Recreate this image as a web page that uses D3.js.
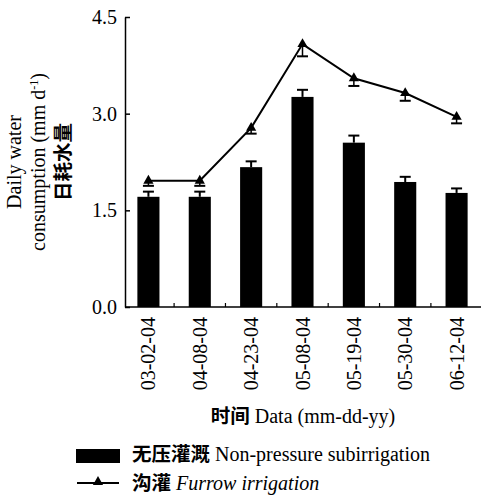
<!DOCTYPE html>
<html><head><meta charset="utf-8">
<script src="https://cdn.jsdelivr.net/npm/d3@7"></script>
<style>
body{margin:0;background:#fff;}
text{font-family:"Liberation Serif","Times New Roman",serif;fill:#000;}
.cjk{font-family:"Noto Sans CJK SC",sans-serif;font-weight:bold;}
</style></head>
<body>
<svg id="c" width="481" height="496"></svg>
<script>
const categories = ["03-02-04","04-08-04","04-23-04","05-08-04","05-19-04","05-30-04","06-12-04"];
const barValues = [1.71,1.71,2.17,3.26,2.55,1.94,1.77];
const barErrors = [0.08,0.08,0.09,0.11,0.11,0.08,0.07];
const lineValues = [1.96,1.96,2.78,4.08,3.55,3.32,2.95];
const lineErrors = [0.08,0.08,0.09,0.19,0.12,0.12,0.10];
const yTicks = [0.0,1.5,3.0,4.5];

const svg = d3.select("#c");
const x = d3.scaleBand().domain(categories).range([123,482]).paddingInner(0.57).paddingOuter(0.28);
const y = d3.scaleLinear().domain([0,4.5]).range([307,17]);
const x0 = 125;
const FS = "20px", CFS = "19.5px";

// bars
svg.selectAll("rect.bar").data(categories).enter().append("rect")
  .attr("x",d=>x(d)).attr("width",x.bandwidth())
  .attr("y",(d,i)=>y(barValues[i])).attr("height",(d,i)=>y(0)-y(barValues[i]))
  .attr("fill","#000");
// bar error bars (upward)
const cw = 11;
categories.forEach((d,i)=>{
  const cx = x(d)+x.bandwidth()/2;
  svg.append("line").attr("x1",cx).attr("x2",cx).attr("y1",y(barValues[i])).attr("y2",y(barValues[i]+barErrors[i])).attr("stroke","#000").attr("stroke-width",2);
  svg.append("line").attr("x1",cx-cw/2).attr("x2",cx+cw/2).attr("y1",y(barValues[i]+barErrors[i])).attr("y2",y(barValues[i]+barErrors[i])).attr("stroke","#000").attr("stroke-width",2);
});

// line
const line = d3.line().x((d,i)=>x(categories[i])+x.bandwidth()/2).y(d=>y(d));
svg.append("path").datum(lineValues).attr("d",line).attr("fill","none").attr("stroke","#000").attr("stroke-width",2);
categories.forEach((d,i)=>{
  const cx = x(d)+x.bandwidth()/2;
  svg.append("line").attr("x1",cx).attr("x2",cx).attr("y1",y(lineValues[i])).attr("y2",y(lineValues[i]-lineErrors[i])).attr("stroke","#000").attr("stroke-width",1.5);
  svg.append("line").attr("x1",cx-cw/2).attr("x2",cx+cw/2).attr("y1",y(lineValues[i]-lineErrors[i])).attr("y2",y(lineValues[i]-lineErrors[i])).attr("stroke","#000").attr("stroke-width",2);
});
const tri = d3.symbol().type(d3.symbolTriangle).size(45);
svg.selectAll("path.mk").data(lineValues).enter().append("path")
  .attr("d",tri).attr("transform",(d,i)=>`translate(${x(categories[i])+x.bandwidth()/2},${y(d)})`).attr("fill","#000");

// y axis
const ya = svg.append("g").attr("transform",`translate(${x0},0)`)
  .call(d3.axisLeft(y).tickValues(yTicks).tickFormat(d3.format(".1f")).tickSizeInner(-5).tickSizeOuter(0).tickPadding(8));
ya.attr("font-family",null);
ya.select(".domain").attr("stroke-width",1.5);
ya.selectAll(".tick line").attr("stroke-width",1.5);
ya.selectAll(".tick text").style("font-size",FS);

// x axis
svg.append("line").attr("x1",x0).attr("x2",482).attr("y1",y(0)).attr("y2",y(0)).attr("stroke","#000").attr("stroke-width",1.5);
const step = x.step();
categories.slice(1).forEach((d,i)=>{
  const bx = x(d) - (step - x.bandwidth())/2;
  svg.append("line").attr("x1",bx).attr("x2",bx).attr("y1",y(0)).attr("y2",y(0)-4).attr("stroke","#000").attr("stroke-width",1.2);
});
svg.selectAll("text.xl").data(categories).enter().append("text")
  .attr("transform",d=>`translate(${x(d)+x.bandwidth()/2},317) rotate(-90)`)
  .attr("text-anchor","end").attr("dy","0.35em").style("font-size",FS).text(d=>d);

// x title
const xt = svg.append("text").attr("x",303).attr("y",423).attr("text-anchor","middle").style("font-size",FS);
xt.append("tspan").attr("class","cjk").style("font-size",CFS).text("时间");
xt.append("tspan").text(" Data (mm-dd-yy)");

// y title
const yt = svg.append("g").attr("transform","translate(0,162) rotate(-90)");
yt.append("text").attr("y",21).attr("text-anchor","middle").style("font-size",FS).text("Daily water");
const t2 = yt.append("text").attr("y",45).attr("text-anchor","middle").style("font-size",FS);
t2.append("tspan").text("consumption (mm d");
t2.append("tspan").attr("dy",-7).style("font-size","12px").text("-1");
t2.append("tspan").attr("dy",7).text(")");
yt.append("text").attr("y",70).attr("text-anchor","middle").attr("class","cjk").style("font-size",CFS).text("日耗水量");

// legend
svg.append("rect").attr("x",76).attr("y",449).attr("width",44).attr("height",14).attr("fill","#000");
const l1 = svg.append("text").attr("x",132).attr("y",461).style("font-size",FS);
l1.append("tspan").attr("class","cjk").style("font-size",CFS).text("无压灌溉");
l1.append("tspan").text(" Non-pressure subirrigation");
svg.append("line").attr("x1",77).attr("x2",119).attr("y1",483).attr("y2",483).attr("stroke","#000").attr("stroke-width",2);
svg.append("path").attr("d",tri).attr("transform","translate(98,482)").attr("fill","#000");
const l2 = svg.append("text").attr("x",132).attr("y",490).style("font-size",FS);
l2.append("tspan").attr("class","cjk").style("font-size",CFS).text("沟灌");
l2.append("tspan").style("font-style","italic").text(" Furrow irrigation");
</script>
</body></html>
